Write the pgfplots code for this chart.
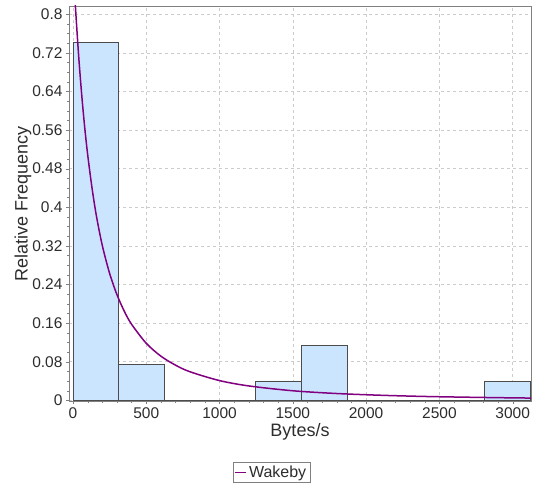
\documentclass[border=0pt]{standalone}
\usepackage{fontspec}
\setmainfont{Liberation Sans}
\usepackage{pgfplots}
\pgfplotsset{compat=1.18}
\usetikzlibrary{calc}
\definecolor{barfill}{RGB}{204,229,255}
\definecolor{wakeby}{RGB}{128,0,128}
\definecolor{txt}{RGB}{45,45,45}
\begin{document}
\begin{tikzpicture}
\begin{axis}[
  name=ax,
  scale only axis, width=462bp, height=395bp,
  xmin=-27, xmax=3125, ymin=-0.0015, ymax=0.817,
  xtick={0,500,1000,1500,2000,2500,3000},
  ytick={0,0.08,0.16,0.24,0.32,0.4,0.48,0.56,0.64,0.72,0.8},
  /pgf/number format/1000 sep={},
  /pgf/number format/assume math mode=true,
  yticklabel style={/pgf/number format/fixed, /pgf/number format/precision=2},
  minor x tick num=4, minor y tick num=3,
  xtick pos=lower, ytick pos=left,
  tick align=outside, major tick length=3bp, minor tick length=2bp,
  axis line style={gray}, tick style={gray},
  grid=major, grid style={gray!40, line width=0.6bp, dash pattern=on 3bp off 3bp},
  tick label style={font=\fontsize{15.5bp}{18bp}\selectfont, text=txt},
  xlabel={Bytes/s}, ylabel={Relative Frequency},
  label style={font=\fontsize{18bp}{21bp}\selectfont, text=txt},
  xlabel style={at={(axis description cs:0.5,-0.078)}, anchor=center},
  ylabel style={at={(axis description cs:-0.0995,0.5)}, anchor=center},
  legend style={at={(0.438,-0.181)}, anchor=center, draw=gray, font=\fontsize{16bp}{18bp}\selectfont, text=txt, inner sep=1.5bp},
  legend image code/.code={\draw[#1] (0bp,0bp) -- (11bp,0bp);},
]
\addplot[ybar interval, fill=barfill, draw=black!70, line width=0.8bp, forget plot] coordinates {
(0,0.7406) (312,0.0751) (624,0) (936,0) (1248,0.0400) (1560,0.1138) (1872,0) (2184,0) (2496,0) (2808,0.0385) (3120,0)};
\addplot[wakeby, line width=1.5bp, smooth] coordinates {
(0,0.909) (10,0.852) (20,0.800) (40,0.709) (60,0.632) (80,0.566) (100,0.510) (130,0.440) (160,0.382) (200,0.321) (250,0.263) (300,0.219) (350,0.1846) (400,0.1575) (500,0.1181) (600,0.0914) (700,0.0727) (800,0.0589) (1000,0.0408) (1200,0.0297) (1500,0.0197) (1800,0.0140) (2100,0.0104) (2400,0.0079) (2700,0.0063) (3000,0.0050) (3125,0.0046)};
\addlegendentry{Wakeby}
\end{axis}
\pgfresetboundingbox
\useasboundingbox ($(ax.south west)+(-69bp,-83bp)$) rectangle ($(ax.south west)+(467bp,401bp)$);
\end{tikzpicture}
\end{document}
